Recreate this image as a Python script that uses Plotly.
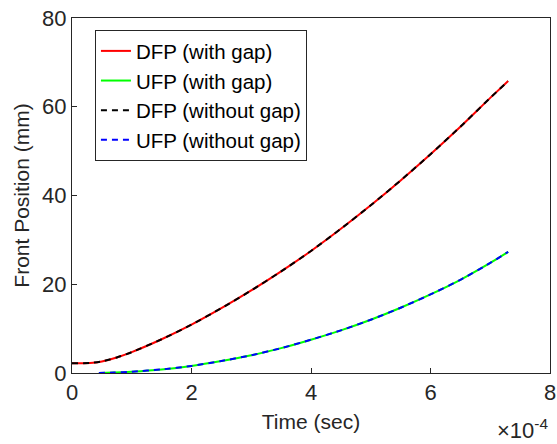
import plotly.graph_objects as go

# Time values (×1e-4 s)
t_dfp = [0.0, 0.3, 0.5, 0.75, 1.0, 1.5, 2.0, 2.5, 3.0, 3.5, 4.0, 4.5, 5.0, 5.5, 6.0, 6.5, 7.0, 7.3]
dfp = [2.2, 2.25, 2.6, 3.5, 4.7, 7.6, 10.9, 14.6, 18.6, 22.9, 27.5, 32.5, 37.8, 43.4, 49.3, 55.5, 62.0, 65.8]

t_ufp = [0.45, 0.7, 1.0, 1.5, 2.0, 2.5, 3.0, 3.5, 4.0, 4.5, 5.0, 5.5, 6.0, 6.5, 7.0, 7.3]
ufp = [0.0, 0.1, 0.3, 0.8, 1.6, 2.7, 4.0, 5.6, 7.5, 9.6, 12.0, 14.7, 17.7, 21.0, 24.8, 27.3]

x_scale = 1e-4
x_dfp = [v * x_scale for v in t_dfp]
x_ufp = [v * x_scale for v in t_ufp]

x_ticks = [0, 2, 4, 6, 8]
y_ticks = [0, 20, 40, 60, 80]

FONT = "Arial, Liberation Sans, Helvetica, sans-serif"
AX = "#262626"

fig = go.Figure()
fig.add_trace(go.Scatter(x=x_dfp, y=dfp, mode="lines", name="DFP (with gap)",
                         line=dict(color="#ff0000", width=2, shape="spline", smoothing=0.6)))
fig.add_trace(go.Scatter(x=x_ufp, y=ufp, mode="lines", name="UFP (with gap)",
                         line=dict(color="#00ff00", width=2, shape="spline", smoothing=0.6)))
fig.add_trace(go.Scatter(x=x_dfp, y=dfp, mode="lines", name="DFP (without gap)",
                         line=dict(color="#000000", width=2, dash="6px,5px", shape="spline", smoothing=0.6)))
fig.add_trace(go.Scatter(x=x_ufp, y=ufp, mode="lines", name="UFP (without gap)",
                         line=dict(color="#0000ff", width=2, dash="6px,5px", shape="spline", smoothing=0.6)))

fig.update_layout(
    width=557, height=444,
    margin=dict(l=72, r=7, t=18, b=71, autoexpand=False),
    paper_bgcolor="white", plot_bgcolor="white",
    font=dict(family=FONT, color=AX),
    showlegend=True,
    legend=dict(x=0.048, y=0.966, xanchor="left", yanchor="top",
                bgcolor="white", bordercolor=AX, borderwidth=1,
                font=dict(size=20.5, color="#000000"),
                tracegroupgap=0, itemwidth=30),
    xaxis=dict(range=[0, 8e-4], tickvals=[v * x_scale for v in x_ticks],
               ticktext=[str(v) for v in x_ticks], automargin=False,
               ticks="inside", ticklen=5, tickcolor=AX, tickwidth=1,
               showline=True, linecolor=AX, linewidth=1, mirror=True,
               showgrid=False, zeroline=False,
               tickfont=dict(size=22, color=AX),
               title=dict(text="Time (sec)", font=dict(size=21, color=AX), standoff=9)),
    yaxis=dict(range=[0, 80], tickvals=y_ticks, automargin=False,
               ticks="inside", ticklen=5, tickcolor=AX, tickwidth=1,
               showline=True, linecolor=AX, linewidth=1, mirror=True,
               showgrid=False, zeroline=False,
               tickfont=dict(size=22, color=AX),
               title=dict(text="Front Position (mm)", font=dict(size=21, color=AX), standoff=6)),
    annotations=[dict(text="×10<sup>-4</sup>", xref="paper", yref="paper",
                      x=1.0, y=-0.203, xanchor="right", yanchor="bottom",
                      showarrow=False, font=dict(size=22, color=AX))],
)

fig.write_html(
    "out.html",
    config={"displayModeBar": False},
    post_script="document.body.style.margin='0';document.body.style.padding='0';",
)
